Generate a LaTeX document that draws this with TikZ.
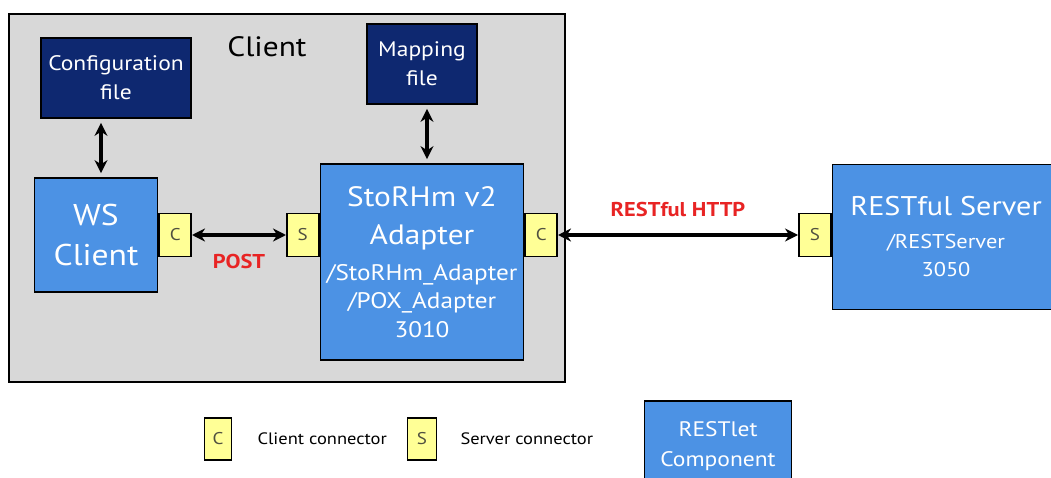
\documentclass[tikz,border=0pt]{standalone}
\usepackage{fontspec}
\setmainfont{PT Sans}[FakeStretch=1.12]
\usetikzlibrary{arrows.meta,positioning}
\definecolor{clientgrey}{RGB}{216,216,216}
\definecolor{compblue}{RGB}{76,146,228}
\definecolor{filenavy}{RGB}{14,40,112}
\definecolor{connyellow}{RGB}{255,255,150}
\definecolor{labelred}{RGB}{232,36,36}
\definecolor{conntext}{RGB}{80,80,64}
\newcommand{\bigline}[1]{{\fontsize{28}{28}\selectfont #1}}

\begin{document}
\begin{tikzpicture}[x=1pt,y=-1pt,
    comp/.style={rectangle,draw,line width=1.8pt,fill=compblue,text=white,align=center,inner sep=0pt},
    file/.style={rectangle,draw,line width=1.8pt,fill=filenavy,text=white,align=center,inner sep=0pt,font=\fontsize{21}{29}\selectfont},
    conn/.style={rectangle,draw,line width=1.6pt,fill=connyellow,text=conntext,inner sep=0pt,minimum width=32pt,minimum height=43pt,font=\fontsize{17}{17}\selectfont},
    link/.style={line width=3.2pt,{Stealth[length=13pt,width=13pt]}-{Stealth[length=13pt,width=13pt]}},
    proto/.style={text=labelred,font=\bfseries\fontsize{20}{20}\selectfont,inner sep=0pt},
    key/.style={inner sep=0pt,font=\fontsize{16.5}{16.5}\selectfont}]
  \useasboundingbox (0,0) rectangle (1051,478);
  \fill[white] (0,0) rectangle (1051,478);
  % client area
  \node[fill=clientgrey,draw,line width=1.8pt,minimum width=556pt,minimum height=368pt,inner sep=0pt] (client) at (287,198) {};
  \node[font=\fontsize{28}{28}\selectfont] (clientlbl) at (267,47) {Client};
  \node[file,minimum width=150pt,minimum height=80pt] (cfg) at (116,78) {Configuration\\file};
  \node[file,minimum width=110pt,minimum height=80pt] (map) at (422,64) {Mapping\\file};
  \node[comp,minimum width=123pt,minimum height=114pt,font=\fontsize{30}{40}\selectfont] (ws) at (96,235) {WS\\Client};
  \node[conn,right=0pt of ws] (wsc) {C};
  \node[comp,minimum width=203pt,minimum height=196pt,font=\fontsize{22.5}{28.5}\selectfont] (ad) at (422,262)
    {\bigline{StoRHm v2}\\[10pt]\bigline{Adapter}\\[7pt]/StoRHm\_Adapter\\/POX\_Adapter\\3010};
  \node[conn,anchor=east] (ads) at (ad.west |- wsc.center) {S};
  \node[conn,anchor=west] (adc) at (ad.east |- wsc.center) {C};
  % server
  \node[comp,minimum width=227pt,minimum height=145pt,font=\fontsize{20}{28}\selectfont] (srv) at (946,237)
    {{\fontsize{27}{27}\selectfont RESTful Server}\\[5pt]/RESTServer\\3050};
  \node[conn,anchor=east] (srvs) at (srv.west |- wsc.center) {S};
  % links
  \draw[link] (wsc) -- node[proto,below=18pt] {POST} (ads);
  \draw[link] (adc) -- node[proto,above=17pt] {RESTful HTTP} (srvs);
  \draw[link,shorten <=4pt,shorten >=4pt] ([xshift=-15pt]cfg.south) -- ([xshift=5pt]ws.north);
  \draw[link,shorten <=4pt,shorten >=4pt] ([xshift=5pt]map.south) -- ([xshift=5pt]ad.north);
  % legend
  \node[conn,minimum width=27pt,minimum height=42pt] (keyc) at (218,439) {C};
  \node[key,right=25pt of keyc] (keyctext) {Client connector};
  \node[conn,minimum width=29pt,minimum height=42pt] (keys) at (422,439) {S};
  \node[key,right=23pt of keys] (keystext) {Server connector};
  \node[comp,minimum width=147pt,minimum height=90pt,anchor=north,font=\fontsize{21}{30}\selectfont] (keycomp) at (718,400) {RESTlet\\Component};
\end{tikzpicture}
\end{document}
